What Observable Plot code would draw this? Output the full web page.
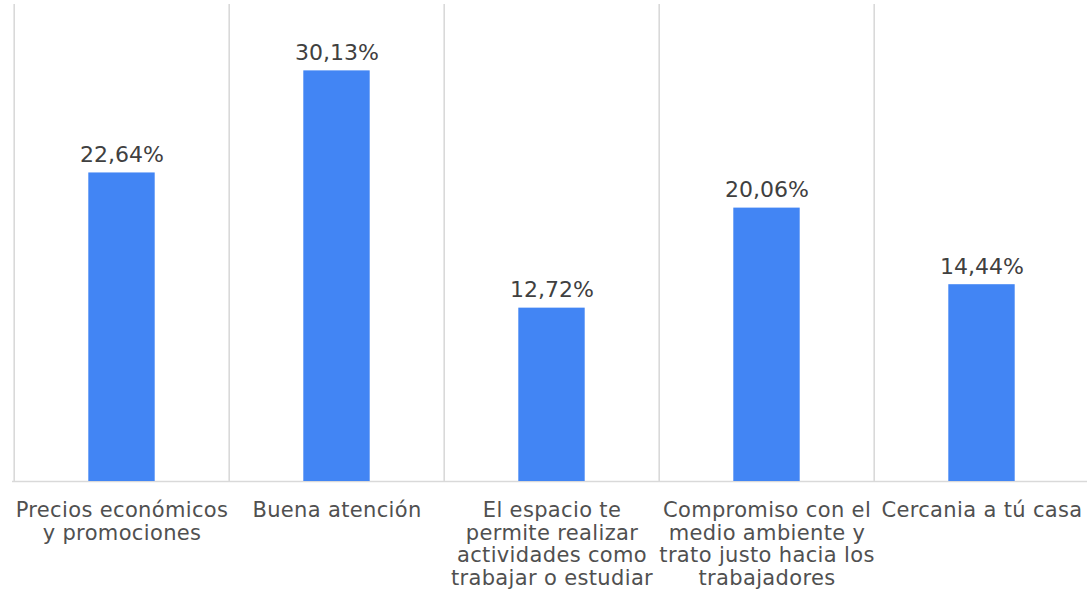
<!DOCTYPE html>
<html>
<head>
<meta charset="utf-8">
<script src="https://cdn.jsdelivr.net/npm/d3@7"></script>
<script src="https://cdn.jsdelivr.net/npm/@observablehq/plot@0.6"></script>
<style>
  html, body { margin: 0; padding: 0; background: #fff; }
  #chart svg { display: block; }
  #chart svg g[aria-label="x-axis tick label"] text { letter-spacing: 0.35px; }
</style>
</head>
<body>
<div id="chart"></div>
<script>
const categories = [
  "Precios económicos\ny promociones",
  "Buena atención",
  "El espacio te\npermite realizar\nactividades como\ntrabajar o estudiar",
  "Compromiso con el\nmedio ambiente y\ntrato justo hacia los\ntrabajadores",
  "Cercania a tú casa"
];
const values = [22.64, 30.13, 12.72, 20.06, 14.44];
const valueLabels = ["22,64%", "30,13%", "12,72%", "20,06%", "14,44%"];

const data = categories.map((c, i) => ({cat: c, value: values[i], label: valueLabels[i]}));

const W = 1087, H = 592;
const x0 = 12, x1 = 1090;
const bw = (x1 - x0) / categories.length;

const chart = Plot.plot({
  width: W,
  height: H,
  marginTop: 4,
  marginBottom: 111,
  marginLeft: 12,
  marginRight: 0,
  style: {fontFamily: "'DejaVu Sans', sans-serif", fontSize: "22px", background: "#fff"},
  x: {domain: categories, range: [x0, x1], padding: 0, label: null},
  y: {domain: [0, 35], axis: null},
  marks: [
    Plot.ruleX(categories, {x: d => d, dx: -bw / 2, y1: 0, y2: 35, stroke: "#d9d9d9", strokeWidth: 1.6}),
    Plot.ruleY([0], {stroke: "#d9d9d9", strokeWidth: 1.6}),
    Plot.barY(data, {x: "cat", y: "value", fill: "#4285f4", insetLeft: (bw - 67) / 2, insetRight: (bw - 67) / 2}),
    Plot.text(data, {x: "cat", y: "value", text: "label", lineAnchor: "bottom", dy: -11, fill: "#404040", fontSize: 22}),
    Plot.axisX({tickSize: 0, tickPadding: 20, fontSize: 21, lineHeight: 1.07, fill: "#505050", label: null})
  ]
});
document.getElementById("chart").appendChild(chart);
</script>
</body>
</html>
